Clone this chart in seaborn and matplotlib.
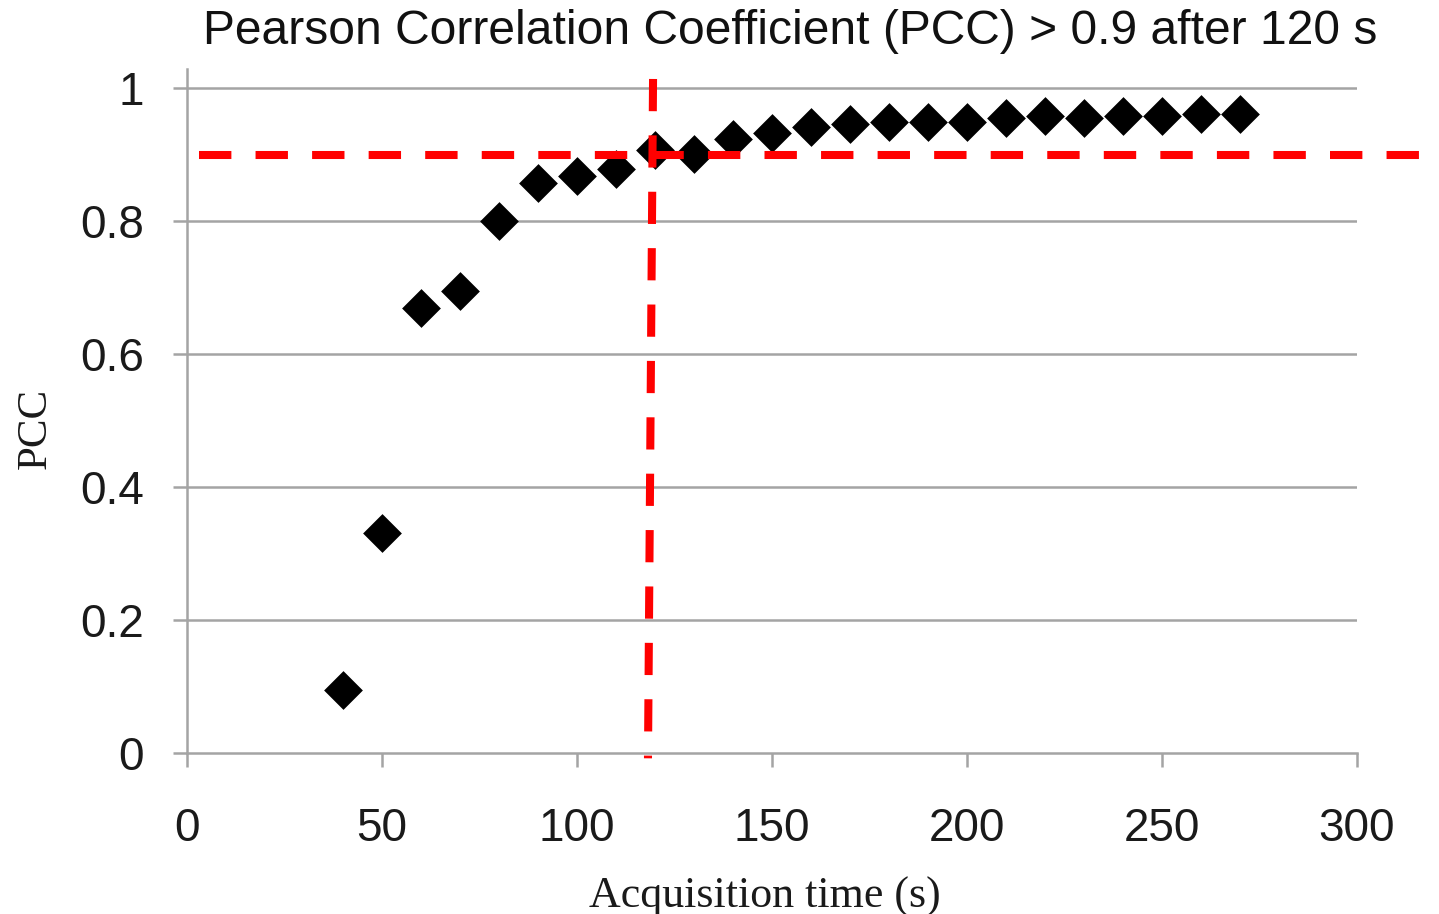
import matplotlib
matplotlib.use("Agg")
import matplotlib.pyplot as plt
import seaborn as sns
import pandas as pd

# ---- data ----
acq_time = [40, 50, 60, 70, 80, 90, 100, 110, 120, 130, 140, 150,
            160, 170, 180, 190, 200, 210, 220, 230, 240, 250, 260, 270]
pcc = [0.095, 0.331, 0.669, 0.695, 0.800, 0.857, 0.868, 0.878, 0.907, 0.901,
       0.923, 0.932, 0.941, 0.947, 0.950, 0.950, 0.949, 0.956, 0.959, 0.956,
       0.958, 0.959, 0.961, 0.962]
threshold_pcc = 0.9
threshold_time = 120
x_ticks = [0, 50, 100, 150, 200, 250, 300]
y_ticks = [0, 0.2, 0.4, 0.6, 0.8, 1]
y_tick_labels = ["0", "0.2", "0.4", "0.6", "0.8", "1"]
title = "Pearson Correlation Coefficient (PCC) > 0.9 after 120 s"
xlabel = "Acquisition time (s)"
ylabel = "PCC"

df = pd.DataFrame({"time": acq_time, "pcc": pcc})

sns.set_theme(style="white")
plt.rcParams["font.family"] = ["Liberation Sans", "DejaVu Sans"]

fig = plt.figure(figsize=(14.39, 9.14), dpi=100)
ax = fig.add_axes([187 / 1439, 161 / 914, 1170 / 1439, 684 / 914])

grey = "#a4a4a4"

ax.set_xlim(0, 300)
ax.set_ylim(0, 1.029)

# gridlines
for yv in y_ticks[1:]:
    ax.axhline(yv, color=grey, lw=1.8, zorder=1)

sns.scatterplot(data=df, x="time", y="pcc", marker="D", s=390, color="black",
                linewidth=0, ax=ax, zorder=3)

# threshold lines
ax.plot([3.1, 330], [threshold_pcc, threshold_pcc], color="red", lw=5.8,
        dashes=(4.02, 3.0), clip_on=False, zorder=4, dash_capstyle="butt")
ax.plot([threshold_time - 0.5, threshold_time - 1.8], [1.014, -0.008], color="red",
        lw=5.8, dashes=(4, 3), clip_on=False, zorder=4, dash_capstyle="butt")

for s in ["top", "right"]:
    ax.spines[s].set_visible(False)
for s in ["left", "bottom"]:
    ax.spines[s].set_color(grey)
    ax.spines[s].set_linewidth(1.8)

ax.set_xticks(x_ticks)
ax.set_xticklabels([str(v) for v in x_ticks])
ax.set_yticks(y_ticks)
ax.set_yticklabels(y_tick_labels)
ax.tick_params(axis="both", colors=grey, length=10, width=1.8, labelsize=33,
               labelcolor="#1a1a1a", direction="out", left=True, bottom=True)
ax.tick_params(axis="y", pad=21)
ax.tick_params(axis="x", pad=29)

ax.set_xlabel(xlabel, fontsize=31.7, family=["Liberation Serif"], color="#1a1a1a",
              labelpad=18)
ax.xaxis.label.set_x((765 - 187) / 1170)
ax.set_ylabel(ylabel, fontsize=31, family=["Liberation Serif"], color="#1a1a1a")
ax.yaxis.set_label_coords(-132 / 1170, (753 - 428) / 684)

fig.text(790 / 1439, 1 - 31 / 914, title, ha="center", va="center", fontsize=34.6,
         color="#111111")

fig.savefig("out.png", dpi=100)
